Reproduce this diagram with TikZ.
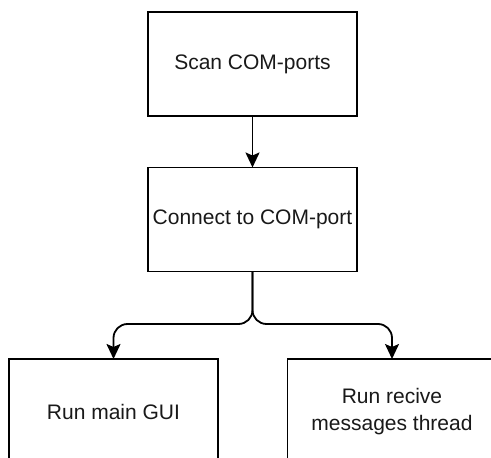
\documentclass[tikz,border=0pt]{standalone}
\usepackage{fontspec}
\setmainfont{Liberation Sans}
\usetikzlibrary{arrows.meta}
\begin{document}
\begin{tikzpicture}[x=1pt,y=-1pt,
  box/.style={draw=black, line width=1.8pt, fill=white, minimum width=209pt, minimum height=104pt,
    inner sep=0pt, outer sep=0pt, align=center, font=\fontsize{21}{27}\selectfont, text=black!90},
  conn/.style={draw=black, line width=1.8pt, rounded corners=14pt,
    -{Stealth[length=15pt,width=14pt,inset=3pt]}}]
\useasboundingbox (0,0) rectangle (491,458);
\clip (0,0) rectangle (491,458);
\node[box] (scan) at (252.5,64) {Scan COM-ports};
\node[box] (conn) at (252.5,219.5) {Connect to COM-port};
\node[box, minimum height=105pt] (gui) at (113.5,411.5) {Run main GUI};
\node[box, minimum height=105pt] (recv) at (392,411.5) {Run recive\\messages thread};
\coordinate (split) at (252.5,324);
\draw[conn] (scan) -- (conn);
\draw[conn] (conn.south) -- (split) -| (gui.north);
\draw[conn] (conn.south) -- (split) -| (recv.north);
\end{tikzpicture}
\end{document}
